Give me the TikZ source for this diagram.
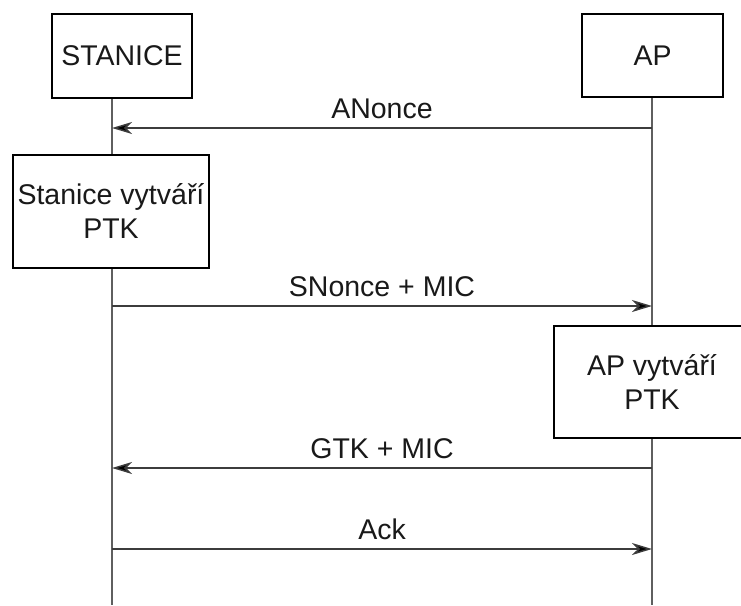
\documentclass[tikz,border=0pt]{standalone}
\usepackage{fontspec}
\setmainfont{Liberation Sans}
\usetikzlibrary{arrows.meta}
\definecolor{lifegray}{RGB}{95,95,95}
\definecolor{msggray}{RGB}{60,60,60}
\definecolor{txtgray}{RGB}{25,25,25}

\tikzset{
  party/.style={draw=black, line width=2pt, fill=white, text=txtgray,
    align=center, inner sep=0pt, font=\fontsize{28.5}{34}\selectfont},
  life/.style={draw=lifegray, line width=1.3pt},
  msg/.style={draw=msggray, line width=1.5pt,
    -{Stealth[length=20pt, width=12pt, inset=6pt, fill=black]}},
  lbl/.style={text=txtgray, inner sep=0pt, text depth=0pt,
    font=\fontsize{28.5}{34}\selectfont}
}

\begin{document}
\begin{tikzpicture}[x=1pt, y=-1pt]
  \def\xs{112}
  \def\xa{652}
  \def\ybot{605}
  \useasboundingbox (0,0) rectangle (741,605);
  \clip (0,0) rectangle (741,605);
  % lifelines
  \coordinate (sTop) at (\xs,98);
  \coordinate (sBot) at (\xs,\ybot);
  \coordinate (aTop) at (\xa,97);
  \coordinate (aBot) at (\xa,\ybot);
  \draw[life] (sTop) -- (sBot);
  \draw[life] (aTop) -- (aBot);

  % boxes
  \node[party, minimum width=140pt, minimum height=84pt] (stanice) at (122,56) {STANICE};
  \node[party, minimum width=141pt, minimum height=83pt] (ap) at (652.5,55.5) {AP};
  \node[party, minimum width=196pt, minimum height=113pt] (staPTK) at (111,211.5) {Stanice vytváří\\PTK};
  \node[party, minimum width=196pt, minimum height=112pt] (apPTK) at (652,382) {AP vytváří\\PTK};

  % message end points
  \coordinate (s1) at (\xs,128);
  \coordinate (a1) at (\xa,128);
  \coordinate (s2) at (\xs,306);
  \coordinate (a2) at (\xa,306);
  \coordinate (s3) at (\xs,468);
  \coordinate (a3) at (\xa,468);
  \coordinate (s4) at (\xs,549);
  \coordinate (a4) at (\xa,549);

  % messages
  \draw[msg] (a1) -- node[lbl, above=9pt] (anonce) {ANonce} (s1);
  \draw[msg] (s2) -- node[lbl, above=9pt] (snonce) {SNonce + MIC} (a2);
  \draw[msg] (a3) -- node[lbl, above=9pt] (gtk) {GTK + MIC} (s3);
  \draw[msg] (s4) -- node[lbl, above=9pt] (ack) {Ack} (a4);
\end{tikzpicture}
\end{document}
